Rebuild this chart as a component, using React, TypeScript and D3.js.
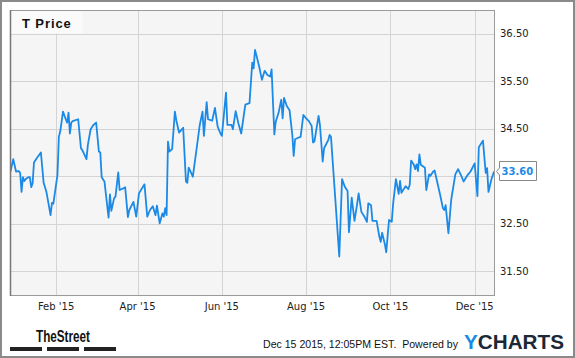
import React from "react";
import * as d3 from "d3";

const dates: string[] = [
"2014-12-30","2015-01-01","2015-01-03","2015-01-05","2015-01-06","2015-01-07","2015-01-08","2015-01-09","2015-01-10","2015-01-12",
"2015-01-13","2015-01-14","2015-01-15","2015-01-16","2015-01-18","2015-01-21","2015-01-23","2015-01-24","2015-01-25","2015-01-28",
"2015-01-29","2015-01-30","2015-02-02","2015-02-03","2015-02-04","2015-02-06","2015-02-08","2015-02-09","2015-02-10","2015-02-11",
"2015-02-12","2015-02-13","2015-02-17","2015-02-19","2015-02-20","2015-02-23","2015-02-24","2015-02-26","2015-02-28","2015-03-02",
"2015-03-04","2015-03-05","2015-03-06","2015-03-08","2015-03-11","2015-03-12","2015-03-13","2015-03-15","2015-03-16","2015-03-18",
"2015-03-19","2015-03-22","2015-03-23","2015-03-25","2015-03-26","2015-03-29","2015-03-31","2015-04-02","2015-04-06","2015-04-08",
"2015-04-10","2015-04-12","2015-04-14","2015-04-15","2015-04-17","2015-04-19","2015-04-20","2015-04-21","2015-04-22","2015-04-23",
"2015-04-24","2015-04-26","2015-04-28","2015-04-29","2015-05-01","2015-05-04","2015-05-06","2015-05-07","2015-05-08","2015-05-11",
"2015-05-14","2015-05-16","2015-05-18","2015-05-19","2015-05-21","2015-05-22","2015-05-25","2015-05-27","2015-05-29","2015-05-31",
"2015-06-01","2015-06-04","2015-06-05","2015-06-08","2015-06-09","2015-06-11","2015-06-13","2015-06-15","2015-06-18","2015-06-21",
"2015-06-23","2015-06-24","2015-06-25","2015-06-26","2015-06-28","2015-06-30","2015-07-02","2015-07-04","2015-07-06","2015-07-07",
"2015-07-09","2015-07-10","2015-07-12","2015-07-14","2015-07-15","2015-07-16","2015-07-18","2015-07-20","2015-07-22","2015-07-23",
"2015-07-24","2015-07-27","2015-07-28","2015-07-30","2015-08-01","2015-08-03","2015-08-05","2015-08-06","2015-08-07","2015-08-10",
"2015-08-11","2015-08-13","2015-08-14","2015-08-17","2015-08-18","2015-08-19","2015-08-25","2015-08-27","2015-08-29","2015-08-31",
"2015-09-01","2015-09-03","2015-09-05","2015-09-07","2015-09-08","2015-09-10","2015-09-12","2015-09-14","2015-09-15","2015-09-17",
"2015-09-18","2015-09-21","2015-09-23","2015-09-24","2015-09-25","2015-09-27","2015-09-28","2015-09-30","2015-10-02","2015-10-03",
"2015-10-05","2015-10-07","2015-10-08","2015-10-09","2015-10-10","2015-10-12","2015-10-14","2015-10-15","2015-10-16","2015-10-18",
"2015-10-19","2015-10-20","2015-10-21","2015-10-22","2015-10-23","2015-10-26","2015-10-27","2015-10-29","2015-10-30","2015-11-01",
"2015-11-02","2015-11-06","2015-11-08","2015-11-09","2015-11-10","2015-11-12","2015-11-14","2015-11-17","2015-11-19","2015-11-21",
"2015-11-23","2015-11-26","2015-11-28","2015-12-01","2015-12-03","2015-12-04","2015-12-07","2015-12-09","2015-12-10","2015-12-11",
"2015-12-13","2015-12-15"
];

const prices: number[] = [
33.60, 33.86, 33.60, 33.61, 33.57, 33.17, 33.48, 33.40, 33.44, 33.48,
33.48, 33.27, 33.35, 33.79, 33.88, 34.00, 33.36, 33.27, 33.17, 32.68,
32.94, 32.92, 33.53, 34.33, 34.44, 34.86, 34.70, 34.63, 34.84, 34.40,
34.63, 34.66, 34.70, 34.09, 34.05, 33.86, 34.16, 34.49, 34.58, 34.63,
34.02, 34.00, 33.48, 33.39, 32.63, 33.12, 32.77, 33.04, 33.07, 33.58,
33.21, 33.25, 33.27, 32.64, 32.79, 32.96, 32.65, 33.14, 33.33, 32.65,
32.79, 32.87, 32.68, 32.88, 32.51, 32.72, 32.65, 32.83, 32.68, 34.23,
34.02, 34.07, 34.86, 34.68, 34.42, 34.52, 33.39, 33.36, 33.68, 33.49,
34.14, 34.58, 34.86, 34.35, 35.06, 34.70, 34.67, 34.94, 34.54, 34.40,
34.35, 35.26, 34.58, 34.58, 34.49, 34.87, 34.61, 34.40, 35.01, 35.04,
35.89, 35.77, 36.16, 36.05, 35.81, 35.53, 35.72, 35.63, 35.60, 35.75,
34.38, 34.65, 34.83, 35.11, 34.72, 35.15, 34.98, 34.89, 34.37, 33.93,
34.28, 34.32, 34.33, 34.79, 34.72, 34.66, 34.56, 34.21, 34.23, 34.77,
34.58, 33.81, 34.09, 34.26, 34.37, 34.33, 31.81, 33.44, 33.28, 33.19,
32.32, 33.05, 32.56, 32.93, 33.14, 32.75, 32.66, 32.54, 32.93, 32.89,
32.56, 32.56, 32.23, 32.12, 32.31, 32.07, 31.90, 32.58, 32.54, 32.93,
33.44, 33.13, 33.40, 33.15, 33.20, 33.29, 33.23, 33.32, 33.83, 33.74,
33.65, 33.75, 33.61, 33.96, 33.74, 33.68, 33.21, 33.54, 33.51, 33.60,
33.62, 33.11, 32.83, 32.79, 32.89, 32.30, 33.00, 33.54, 33.65, 33.53,
33.39, 33.53, 33.60, 33.77, 33.08, 34.11, 34.25, 33.57, 33.67, 33.17,
33.42, 33.60
];

const xTickDates: string[] = ["2015-02-01", "2015-04-01", "2015-06-01", "2015-08-01", "2015-10-01", "2015-12-01"];
const yTickValues: number[] = [31.5, 32.5, 33.5, 34.5, 35.5, 36.5];
const xDomain: string[] = ["2014-12-30", "2015-12-15"];
const yDomain: number[] = [31, 37];
const title = "T Price";
const lastLabel = "33.60";
const footerText = "Dec 15 2015, 12:05PM EST.  Powered by";

const W = 575;
const H = 358;
const L = 10, T = 10, R = 494, B = 295;
const LINE = "#1b8ae6";

export default function App() {
  const parse = d3.timeParse("%Y-%m-%d");
  const data = dates.map((d, i) => ({ date: parse(d) as Date, v: prices[i] }));
  const x = d3.scaleTime().domain(xDomain.map((d) => parse(d) as Date)).range([L + 0.5, R]);
  const y = d3.scaleLinear().domain(yDomain).range([B, T]);
  const line = d3.line<{ date: Date; v: number }>().x((d) => x(d.date)).y((d) => y(d.v));
  const fmt = d3.timeFormat("%b '%y");
  const lastY = y(prices[prices.length - 1]);
  const ly = Math.round(lastY);
  // labels hidden behind the last-value flag are not drawn
  const visibleYLabels = yTickValues.filter((v) => Math.abs(y(v) - lastY) > 12);

  return (
    <svg width={W} height={H} style={{ position: "absolute", left: 0, top: 0, background: "#fff" }}>
      <rect x={1} y={1} width={W - 2} height={H - 2} fill="#fff" stroke="#8a8a8a" strokeWidth={2} />
      <rect x={L} y={T} width={R - L} height={B - T} fill="#f5f5f5" />
      {xTickDates.map((d) => {
        const xx = Math.round(x(parse(d) as Date)) + 0.5;
        return <line key={d} x1={xx} x2={xx} y1={T} y2={B} stroke="#d4d4d4" strokeWidth={1} />;
      })}
      {yTickValues.map((v) => {
        const yy = Math.round(y(v)) + 0.5;
        return <line key={v} x1={L} x2={R} y1={yy} y2={yy} stroke="#d4d4d4" strokeWidth={1} />;
      })}
      <rect x={L + 0.5} y={T + 0.5} width={72} height={23} fill="#fafafa" />
      <text x={22} y={28.3} fontFamily="'Liberation Sans', Arial, sans-serif" fontWeight="bold" fontSize={13} letterSpacing={0.9} fill="#111">{title}</text>
      <defs>
        <clipPath id="plotclip">
          <rect x={L} y={T} width={R - L} height={B - T} />
        </clipPath>
      </defs>
      <path d={line(data) || ""} fill="none" stroke={LINE} strokeWidth={1.8} strokeLinejoin="round" clipPath="url(#plotclip)" />
      <rect x={L + 0.5} y={T + 0.5} width={R - L} height={B - T} fill="none" stroke="#9a9a9a" strokeWidth={1} />
      <line x1={L + 0.5} x2={L + 0.5} y1={T} y2={B + 1} stroke="#777" strokeWidth={1.5} />
      {xTickDates.map((d) => (
        <text key={d} x={x(parse(d) as Date)} y={309.5} textAnchor="middle" fontFamily="'DejaVu Sans', Verdana, sans-serif" fontSize={10} fill="#222">
          {fmt(parse(d) as Date)}
        </text>
      ))}
      {visibleYLabels.map((v) => (
        <text key={v} x={500} y={y(v) + 3.6} fontFamily="'DejaVu Sans', Verdana, sans-serif" fontSize={10} fill="#222">
          {d3.format(".2f")(v)}
        </text>
      ))}
      <path
        d={`M499.5,${ly - 9.5} H536.5 V${ly + 9.5} H499.5 V${ly + 4} L496.5,${ly + 0.5} L499.5,${ly - 3} Z`}
        fill="#fff"
        stroke="#888"
        strokeWidth={1}
      />
      <text x={501.5} y={ly + 4.2} fontFamily="'DejaVu Sans', Verdana, sans-serif" fontWeight="bold" fontSize={10} fill={LINE}>{lastLabel}</text>
      <text x={36} y={342} fontFamily="'Liberation Sans Narrow', 'Liberation Sans', Arial, sans-serif" fontWeight="bold" fontSize={16} textLength={54} lengthAdjust="spacingAndGlyphs" fill="#111">TheStreet</text>
      <rect x={10} y={347} width={32} height={4} fill="#222" />
      <rect x={47} y={347} width={32} height={4} fill="#222" />
      <rect x={84} y={347} width={32} height={4} fill="#222" />
      <text x={263} y={348} fontFamily="'Liberation Sans', Arial, sans-serif" fontSize={11} textLength={195} lengthAdjust="spacingAndGlyphs" fill="#111" style={{ whiteSpace: "pre" }}>{footerText}</text>
      <text x={464} y={349} fontFamily="'Liberation Sans', Arial, sans-serif" fontWeight="bold" fontSize={20.5} textLength={100} lengthAdjust="spacingAndGlyphs">
        <tspan fill={LINE}>Y</tspan>
        <tspan fill="#1c2836">CHARTS</tspan>
      </text>
    </svg>
  );
}
